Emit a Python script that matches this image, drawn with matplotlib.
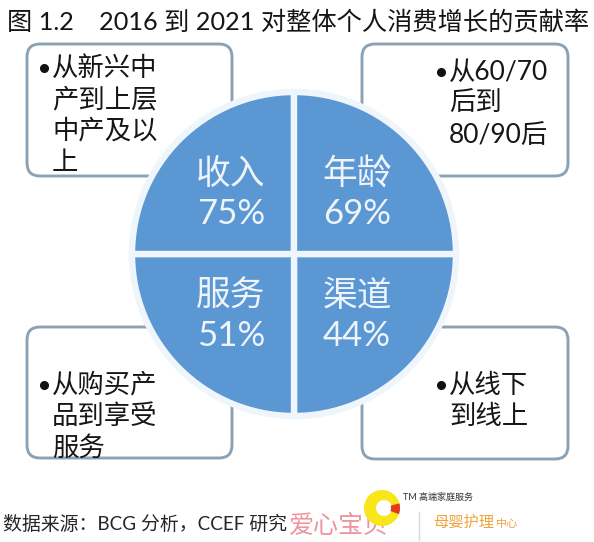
import numpy as np
import matplotlib
matplotlib.use("Agg")
import matplotlib.pyplot as plt
from matplotlib.patches import FancyBboxPatch, Wedge, Circle

plt.rcParams['font.family'] = ['Lato', 'Noto Sans CJK SC', 'DejaVu Sans']

# data
title = "图 1.2　2016 到 2021 对整体个人消费增长的贡献率"
source = "数据来源：BCG 分析，CCEF 研究"
# pie quadrants, in drawing order (counterclockwise from 0 deg in data coords, y axis inverted)
categories = ["渠道", "服务", "收入", "年龄"]
contrib = [44, 51, 75, 69]
shares = [1, 1, 1, 1]
# box texts: top-left, top-right, bottom-left, bottom-right
box_tl = ["从新兴中", "产到上层", "中产及以", "上"]
box_tr = ["从60/70", "后到", "80/90后"]
box_bl = ["从购买产", "品到享受", "服务"]
box_br = ["从线下", "到线上"]

W, H = 594, 542
fig = plt.figure(figsize=(W / 100, H / 100), dpi=100)
ax = fig.add_axes([0, 0, 1, 1])

# boxes behind the pie
box_color = "#8ba2b5"
boxes = [
    ((27, 44, 205, 132), box_tl, 44, 68),
    ((362, 44, 206, 132), box_tr, 441, 72),
    ((27, 327, 205, 131), box_bl, 44, 385),
    ((362, 327, 206, 132), box_br, 441, 385),
]
for (x, y, w, h), lines, bx, by in boxes:
    ax.add_patch(FancyBboxPatch((x, y), w, h, boxstyle="round,pad=0,rounding_size=13",
                                facecolor="white", edgecolor=box_color, lw=2.1, zorder=1))
    ax.plot([bx], [by], "o", ms=5.5, color="#111111", zorder=2)
    for i, line in enumerate(lines):
        ax.text(bx + 8, by + i * 31.5, line, fontsize=19, color="#161616",
                ha="left", va="center", zorder=2)

# pie
cx, cy, r = 294, 254, 162
wedges, _ = ax.pie(shares, center=(cx, cy), radius=r, startangle=0, colors=["#5a97d3"] * 4,
                   wedgeprops=dict(edgecolor="#eef5fb", linewidth=4.6))
for wdg in wedges:
    wdg.set_zorder(3)
for wdg, name, val in zip(wedges, categories, contrib):
    mid = np.deg2rad((wdg.theta1 + wdg.theta2) / 2)
    tx = cx + 0.55 * r * np.cos(mid)
    ty = cy + 0.53 * r * np.sin(mid)
    ax.text(tx, ty - 19, name, fontsize=25, color="#eef4fa", ha="center", va="center", zorder=4)
    ax.text(tx, ty + 21, f"{val}%", fontsize=25, color="#eef4fa", ha="center", va="center", zorder=4)

# title and source
ax.text(7, 22, title, fontsize=18.2, color="#151515", ha="left", va="center")
ax.text(3, 524, source, fontsize=13.6, color="#262626", ha="left", va="center")

# watermark
ax.text(289, 525, "爱心宝贝", fontsize=18, color="#ec8a92", ha="left", va="center", alpha=0.9)
ax.add_patch(Circle((382, 508), 18, facecolor="#f6e61a", edgecolor="none", zorder=5))
ax.add_patch(Circle((384, 508), 8, facecolor="white", edgecolor="none", zorder=5))
ax.add_patch(Wedge((382, 508), 18, 345, 20, width=9, facecolor="#e23a20", edgecolor="none", zorder=6))
ax.text(403, 497, "TM 高端家庭服务", fontsize=6.5, color="#333333", ha="left", va="center")
ax.plot([419, 419], [512, 540], color="#d8d8d8", lw=1)
ax.text(433, 523, "母婴护理", fontsize=11, color="#f0a43c", ha="left", va="center")
ax.text(496, 524, "中心", fontsize=8, color="#f0a43c", ha="left", va="center")

ax.set_xlim(0, W)
ax.set_ylim(H, 0)
ax.set_aspect("auto")
ax.axis("off")
fig.savefig("out.png", dpi=100, facecolor="white")
